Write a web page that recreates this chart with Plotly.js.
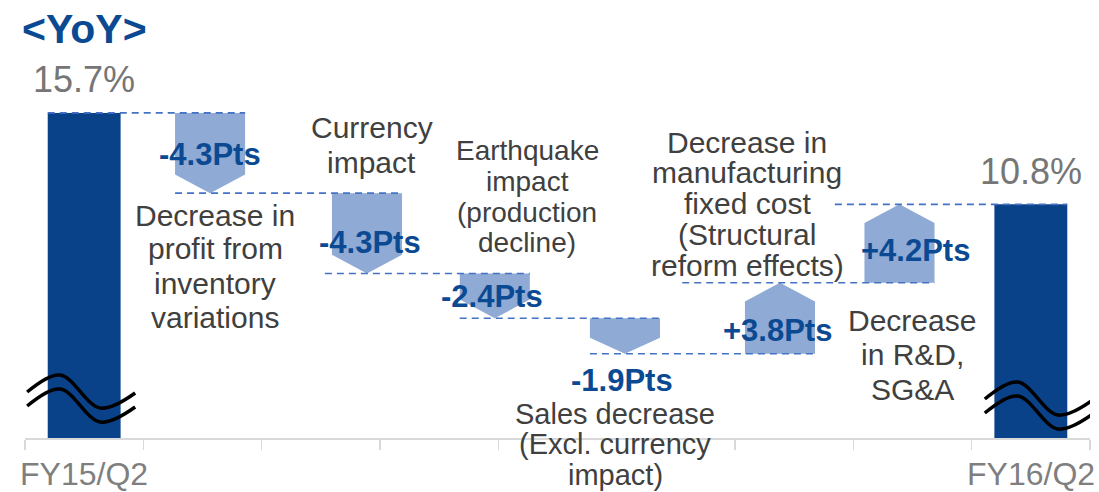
<!DOCTYPE html>
<html>
<head>
<meta charset="utf-8">
<script src="https://cdn.plot.ly/plotly-3.0.1.min.js"></script>
<style>html,body{margin:0;padding:0;background:#fff;}#chart{width:1099px;height:492px;}</style>
</head>
<body>
<div id="chart"></div>
<script>
// ---------------- DATA ----------------
const categories = ['FY15/Q2', '', '', '', '', '', '', '', 'FY16/Q2'];
const startValue = 15.7;
const endValue = 10.8;
const stepDeltas = [-4.3, -4.3, -2.4, -1.9, 3.8, 4.2];
const stepNames = [
  'Decrease in<br>profit from<br>inventory<br>variations',
  'Currency<br>impact',
  'Earthquake<br>impact<br>(production<br>decline)',
  'Sales decrease<br>(Excl. currency<br>impact)',
  'Decrease in<br>manufacturing<br>fixed cost<br>(Structural<br>reform effects)',
  'Decrease<br>in R&D,<br>SG&A'
];
const titleText = '&lt;YoY&gt;';

// ---------------- LAYOUT / STYLE ----------------
const W = 1099, H = 492;
const L = 25, R = 1090, T = 10, B = 438;      // plot area in px
const xUnit = (R - L) / categories.length;     // px per category
const yUnit = 18.67;                           // px per point
const zeroPx = 406;
const ymin = -(B - zeroPx) / yUnit;
const ymax = (zeroPx - T) / yUnit;

const stepPos = [1.064, 2.39, 3.47, 4.57, 5.88, 6.89];  // arrow centres (category units)
const arrowHalf = 0.296;
const barWidth = 0.616;
const connectorExt = [0, 0, 0.06, 0, 0, 0.53, 0.25];

const nameBoxes = [ // [centre x px, first line centre y px, line spacing px, font size]
  [215, 215, 34, 30], [372, 128, 34, 30], [527, 151, 30.5, 28], [615, 414, 30.5, 29], [747, 142, 30.75, 30], [912, 320, 34.5, 30]
];
const ptsBoxes = [[210, 154], [370, 242], [492, 296], [622, 380], [778, 330], [915, 250]];

const FONT = '"Liberation Sans", Arial, sans-serif';
const darkBlue = '#0a428a';
const textBlue = '#0b4a92';
const arrowFill = '#8eaad5';
const dashColor = '#4472c4';
const labelGray = '#404040';
const valueGray = '#767676';

const px2x = px => (px - L) / (R - L);
const py2y = py => (B - py) / (B - T);

// ---------------- BUILD ----------------
const traces = [];
const annotations = [];

// totals bars
const lastIdx = categories.length - 1;
const totalX = [0, lastIdx];
const totalV = [startValue, endValue];
traces.push({
  type: 'bar', x: totalX, y: totalV.map(v => v - ymin), base: ymin,
  width: barWidth, marker: {color: darkBlue, line: {width: 0}},
  hoverinfo: 'skip', showlegend: false
});

// cumulative levels
const levels = [startValue];
stepDeltas.forEach(d => levels.push(Math.round((levels[levels.length - 1] + d) * 10) / 10));

// arrows
stepDeltas.forEach((d, i) => {
  const a = levels[i], b = levels[i + 1], c = stepPos[i];
  const h = Math.min(1.0, 0.45 * Math.abs(d));
  const neck = d < 0 ? b + h : b - h;
  traces.push({
    type: 'scatter', mode: 'lines', fill: 'toself', fillcolor: arrowFill,
    x: [c - arrowHalf, c + arrowHalf, c + arrowHalf, c, c - arrowHalf, c - arrowHalf],
    y: [a, a, neck, b, neck, a],
    line: {width: 0, color: arrowFill}, hoverinfo: 'skip', showlegend: false
  });
});

// connectors (dashed)
const elemCentre = [0].concat(stepPos).concat([lastIdx]);
const elemHalf = [barWidth / 2].concat(stepPos.map(() => arrowHalf)).concat([barWidth / 2]);
for (let k = 0; k < levels.length; k++) {
  const x0 = elemCentre[k] - elemHalf[k] - connectorExt[k];
  const x1 = elemCentre[k + 1] + elemHalf[k + 1];
  traces.push({
    type: 'scatter', mode: 'lines', x: [x0, x1], y: [levels[k], levels[k]],
    line: {color: dashColor, width: 1.6, dash: '7px,5px'}, hoverinfo: 'skip', showlegend: false
  });
}

// axis break symbols
const waveUpper = [[-57, -46], [-24, -63], [16, -30], [51, -45]];
const waveGap = 14;
const breakShift = [[0, 0], [11, 7]];
totalX.forEach((cx, j) => {
  [0, waveGap].forEach(g => {
    traces.push({
      type: 'scatter', mode: 'lines',
      x: waveUpper.map(p => cx + (p[0] + breakShift[j][0]) / xUnit),
      y: waveUpper.map(p => ymin - (p[1] + g + breakShift[j][1]) / yUnit),
      line: {color: '#000', width: 3.5, shape: 'spline', smoothing: 1},
      hoverinfo: 'skip', showlegend: false
    });
  });
});

// total value labels
totalX.forEach((cx, j) => {
  annotations.push({
    x: cx, y: totalV[j], xref: 'x', yref: 'y', yshift: 33, yanchor: 'middle', xanchor: 'center',
    text: totalV[j].toFixed(1) + '%', showarrow: false,
    font: {family: FONT, size: 36, color: valueGray}
  });
});

// category tick labels
categories.forEach((c, i) => {
  if (!c) return;
  annotations.push({
    x: i, y: py2y(474), xref: 'x', yref: 'paper', xanchor: 'center', yanchor: 'middle',
    text: c, showarrow: false, font: {family: FONT, size: 32, color: '#7f7f7f'}
  });
});

// step names (line by line to control spacing)
stepNames.forEach((name, i) => {
  const [cx, cy, dy, fs] = nameBoxes[i];
  name.split('<br>').forEach((ln, k) => {
    annotations.push({
      x: px2x(cx), y: py2y(cy + k * dy), xref: 'paper', yref: 'paper',
      xanchor: 'center', yanchor: 'middle', text: ln, showarrow: false,
      font: {family: FONT, size: fs, color: labelGray}
    });
  });
});

// delta labels
stepDeltas.forEach((d, i) => {
  const [cx, cy] = ptsBoxes[i];
  annotations.push({
    x: px2x(cx), y: py2y(cy), xref: 'paper', yref: 'paper',
    xanchor: 'center', yanchor: 'middle',
    text: '<b>' + (d > 0 ? '+' : '-') + Math.abs(d).toFixed(1) + 'Pts</b>', showarrow: false,
    font: {family: FONT, size: 31, color: textBlue}
  });
});

const boundaries = [];
for (let i = 0; i <= categories.length; i++) boundaries.push(i - 0.5);

const layout = {
  width: W, height: H,
  margin: {l: L, r: W - R, t: T, b: H - B},
  paper_bgcolor: '#fff', plot_bgcolor: '#fff',
  showlegend: false,
  title: {
    text: '<b>' + titleText + '</b>', xref: 'container', yref: 'container',
    x: 22 / W, xanchor: 'left', y: 1 - 29 / H, yanchor: 'middle',
    font: {family: FONT, size: 41, color: textBlue}
  },
  xaxis: {
    type: 'linear', range: [-0.5, categories.length - 0.5], fixedrange: true,
    tickmode: 'array', tickvals: boundaries, ticktext: boundaries.map(() => ''),
    ticks: 'outside', ticklen: 10, tickwidth: 1.5, tickcolor: '#d9d9d9',
    showline: true, linecolor: '#d9d9d9', linewidth: 1.5,
    showgrid: false, zeroline: false
  },
  yaxis: {
    range: [ymin, ymax], fixedrange: true, showgrid: false, zeroline: false,
    showline: false, showticklabels: false, ticks: ''
  },
  annotations: annotations
};

Plotly.newPlot('chart', traces, layout, {displayModeBar: false, staticPlot: true});
</script>
</body>
</html>
